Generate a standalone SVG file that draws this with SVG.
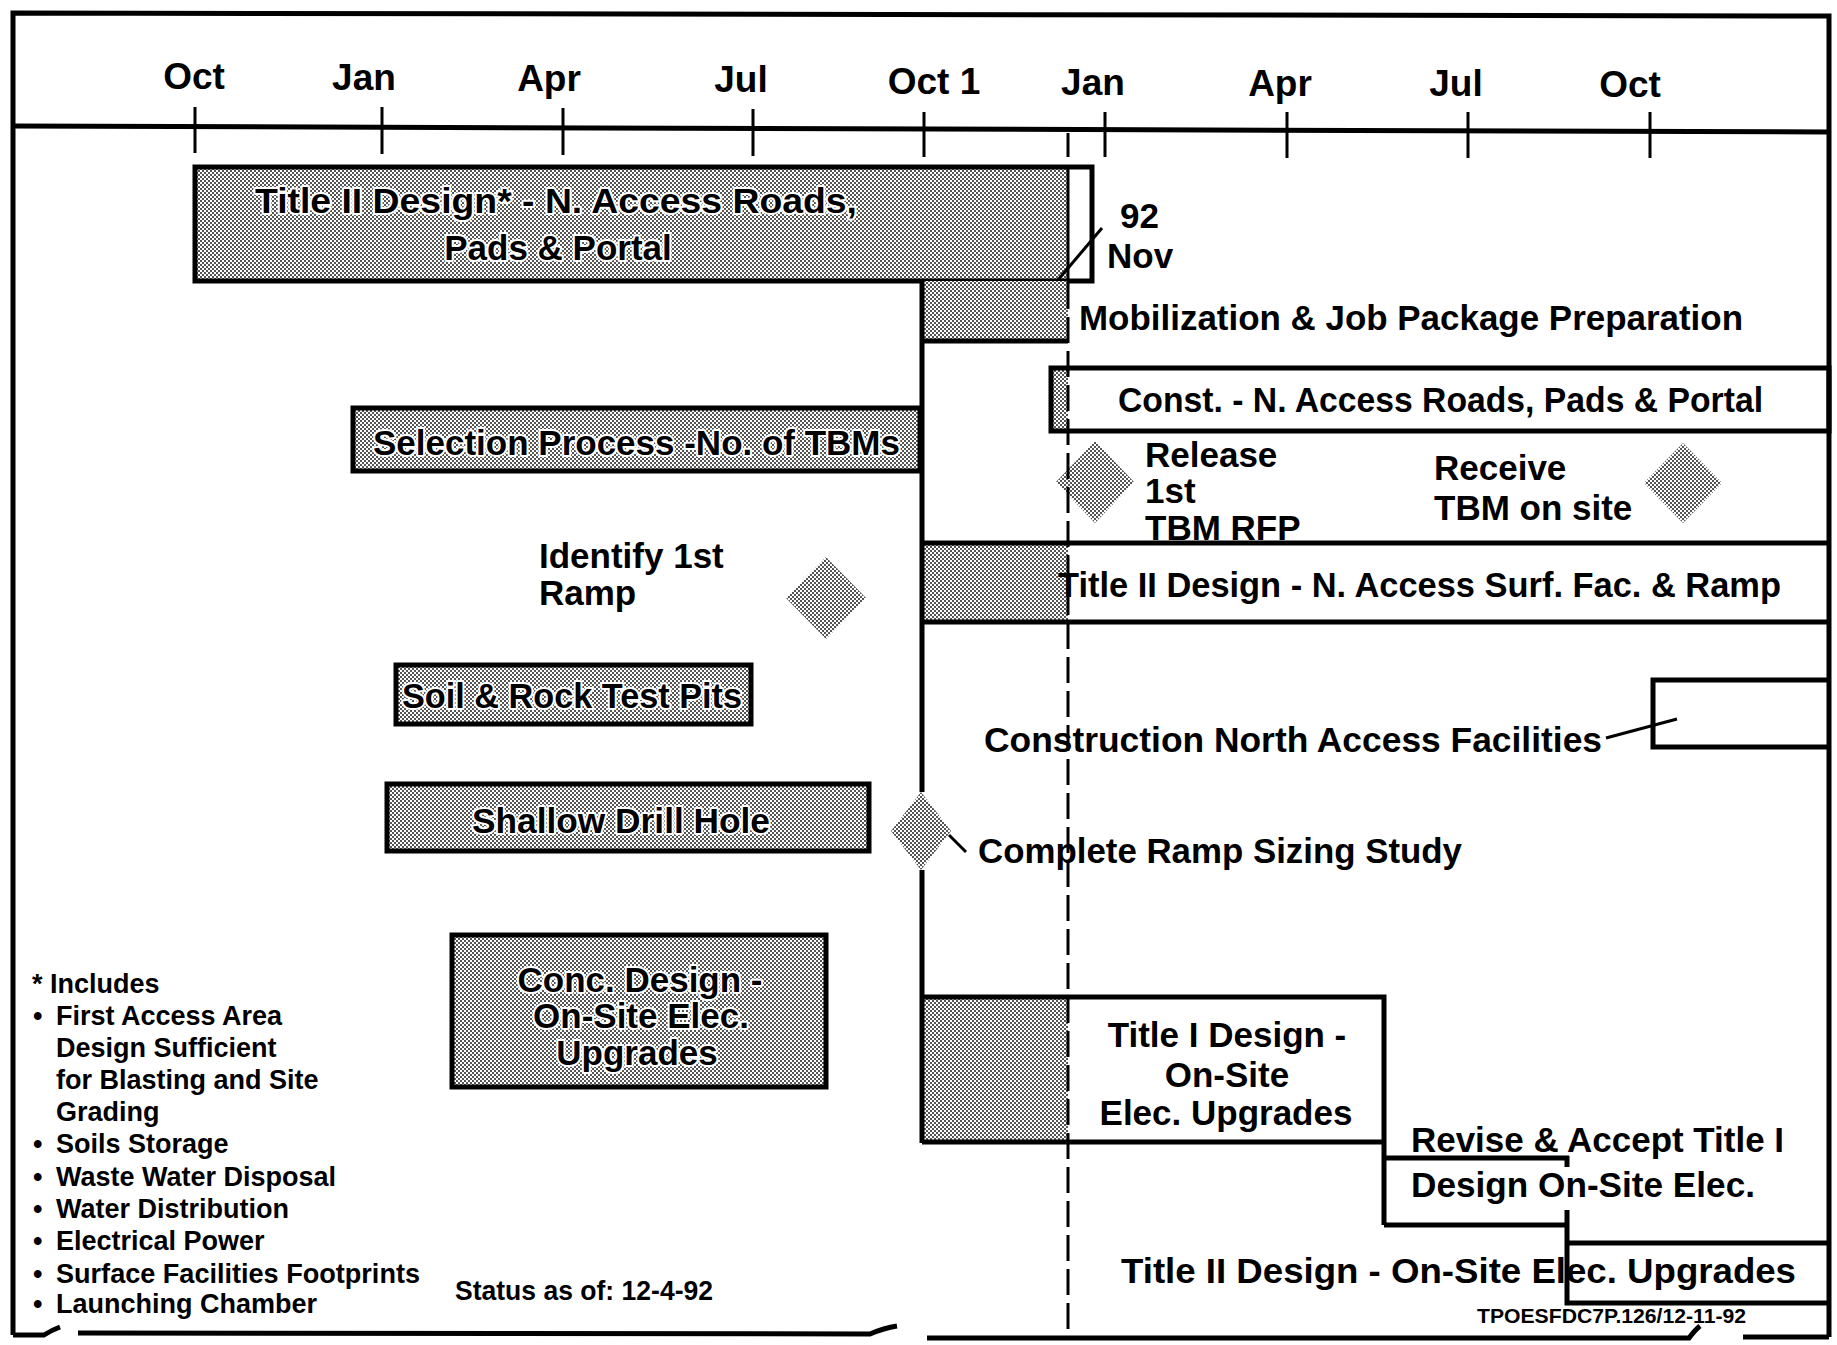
<svg xmlns="http://www.w3.org/2000/svg" width="1837" height="1345" viewBox="0 0 1837 1345">
<defs>
<pattern id="stip" width="4" height="4" patternUnits="userSpaceOnUse">
<rect width="4" height="4" fill="#fff"/>
<rect width="2" height="2" fill="#555"/>
<rect x="2" y="2" width="2" height="2" fill="#555"/>
</pattern>
</defs>
<style>
text{font-family:"Liberation Sans",Arial,Helvetica,sans-serif;font-weight:bold;fill:#000}
.m{font-size:37px;text-anchor:middle}
.l{font-size:35px}
.c{text-anchor:middle}
.h{stroke:#fff;stroke-width:4px;paint-order:stroke;stroke-linejoin:round}
.n{font-size:27px}
.s{font-size:20px}
.b{fill:none;stroke:#000;stroke-width:5}
.g{fill:url(#stip)}
.ln{stroke:#000;stroke-width:5;fill:none}
.tk{stroke:#000;stroke-width:3;fill:none}
.dash{stroke:#000;stroke-width:3;stroke-dasharray:26 8;fill:none}
</style>
<rect width="1837" height="1345" fill="#fff"/>

<g id="frame">
<path class="ln" d="M13 1335 V13 L1829 16 V1337"/>
<path class="ln" stroke-width="6" d="M13 126 L1829 132"/>
<path class="ln" d="M13 1335 H44 Q52 1330 60 1327"/>
<path class="ln" d="M78 1333 L870 1334 Q884 1328 897 1326"/>
<path class="ln" d="M927 1338 L1689 1338 Q1695 1330 1700 1326"/>
<path class="ln" d="M1743 1337 H1829"/>
</g>

<g id="timeline">
<path class="tk" d="M195 107V153 M382 107V154 M563 108V155 M753 109V156 M924 112V157 M1105 112V157 M1287 112V158 M1468 112V158 M1650 112V158"/>
<text class="m" x="194" y="89">Oct</text>
<text class="m" x="364" y="90">Jan</text>
<text class="m" x="549" y="91">Apr</text>
<text class="m" x="741" y="92">Jul</text>
<text class="m" x="934" y="94">Oct 1</text>
<text class="m" x="1093" y="95">Jan</text>
<text class="m" x="1280" y="96">Apr</text>
<text class="m" x="1456" y="96">Jul</text>
<text class="m" x="1630" y="97">Oct</text>
</g>

<g id="title2-roads">
<rect class="g" x="195" y="167" width="873" height="114"/>
<rect class="b" x="195" y="167" width="897" height="114"/>
<text class="l c h" x="556" y="213" textLength="602" lengthAdjust="spacingAndGlyphs">Title II Design* - N. Access Roads,</text>
<text class="l c h" x="558" y="260">Pads &amp; Portal</text>
</g>

<g id="nov92">
<text class="l" x="1120" y="228" font-size="36">92</text>
<text class="l" x="1107" y="268" font-size="36">Nov</text>
</g>

<g id="mobilization">
<rect class="g" x="922" y="281" width="146" height="60"/>
<path class="ln" d="M922 341 H1068"/>
<text class="l" x="1079" y="330" textLength="664" lengthAdjust="spacingAndGlyphs">Mobilization &amp; Job Package Preparation</text>
</g>

<g id="const-roads">
<rect class="g" x="1051" y="368" width="17" height="63"/>
<rect class="b" x="1051" y="368" width="778" height="63"/>
<text class="l" x="1118" y="412" textLength="645" lengthAdjust="spacingAndGlyphs">Const. - N. Access Roads, Pads &amp; Portal</text>
</g>

<g id="selection">
<rect class="g" x="353" y="408" width="567" height="63"/>
<rect class="b" x="353" y="408" width="567" height="63"/>
<text class="l h" x="373" y="455" textLength="527" lengthAdjust="spacingAndGlyphs">Selection Process -No. of TBMs</text>
</g>

<g id="release-rfp">
<polygon class="g" points="1095,441 1134,482 1095,523 1056,482"/>
<text class="l" x="1145" y="467">Release</text>
<text class="l" x="1145" y="503">1st</text>
<text class="l" x="1145" y="540">TBM RFP</text>
</g>

<g id="receive-tbm">
<polygon class="g" points="1683,443 1722,483 1683,523 1644,483"/>
<text class="l" x="1434" y="480">Receive</text>
<text class="l" x="1434" y="520">TBM on site</text>
</g>

<g id="identify-ramp">
<polygon class="g" points="826,557 866,598 826,639 786,598"/>
<text class="l" x="539" y="568">Identify 1st</text>
<text class="l" x="539" y="605">Ramp</text>
</g>

<g id="title2-surf">
<rect class="g" x="922" y="543" width="146" height="79"/>
<path class="ln" d="M922 543 H1829 M922 622 H1829"/>
<text class="l" x="1058" y="597" textLength="723" lengthAdjust="spacingAndGlyphs">Title II Design - N. Access Surf. Fac. &amp; Ramp</text>
</g>

<g id="soil-pits">
<rect class="g" x="396" y="665" width="355" height="59"/>
<rect class="b" x="396" y="665" width="355" height="59"/>
<text class="l h" x="402" y="708" textLength="340" lengthAdjust="spacingAndGlyphs">Soil &amp; Rock Test Pits</text>
</g>

<g id="construction-north">
<path class="ln" d="M1829 680 H1653 V747 H1829"/>
<text class="l" x="984" y="752" textLength="618" lengthAdjust="spacingAndGlyphs">Construction North Access Facilities</text>
</g>

<g id="shallow-drill">
<rect class="g" x="387" y="784" width="482" height="67"/>
<rect class="b" x="387" y="784" width="482" height="67"/>
<text class="l h" x="472" y="833" textLength="298" lengthAdjust="spacingAndGlyphs">Shallow Drill Hole</text>
</g>

<g id="ramp-sizing">
<polygon class="g" points="921,792 951,831 921,870 891,831"/>
<text class="l" x="978" y="863" textLength="484" lengthAdjust="spacingAndGlyphs">Complete Ramp Sizing Study</text>
</g>

<g id="conc-design">
<rect class="g" x="452" y="935" width="374" height="152"/>
<rect class="b" x="452" y="935" width="374" height="152"/>
<text class="l c h" x="640" y="992">Conc. Design -</text>
<text class="l c h" x="641" y="1028">On-Site Elec.</text>
<text class="l c h" x="637" y="1065">Upgrades</text>
</g>

<g id="title1-design">
<rect class="g" x="922" y="997" width="146" height="145"/>
<path class="ln" d="M922 997 H1384 V1225 M922 1142 H1384"/>
<text class="l c" x="1227" y="1047">Title I Design -</text>
<text class="l c" x="1227" y="1087">On-Site</text>
<text class="l c" x="1226" y="1125">Elec. Upgrades</text>
</g>

<g id="revise-accept">
<path class="ln" d="M1384 1158 H1569 M1384 1225 H1569 M1567 1156 V1167"/>
<text class="l" x="1411" y="1152" textLength="373" lengthAdjust="spacingAndGlyphs">Revise &amp; Accept Title I</text>
<text class="l" x="1411" y="1197" textLength="344" lengthAdjust="spacingAndGlyphs">Design On-Site Elec.</text>
</g>

<g id="title2-elec">
<path class="ln" d="M1567 1210 V1303 H1829 M1567 1243 H1829"/>
<text class="l" x="1121" y="1283" textLength="675" lengthAdjust="spacingAndGlyphs">Title II Design - On-Site Elec. Upgrades</text>
</g>

<g id="notes">
<text class="n" x="32" y="993">* Includes</text>
<text class="n"><tspan x="33" y="1025">•</tspan><tspan x="56" y="1025">First Access Area</tspan></text>
<text class="n" x="56" y="1057">Design Sufficient</text>
<text class="n" x="56" y="1089">for Blasting and Site</text>
<text class="n" x="56" y="1121">Grading</text>
<text class="n"><tspan x="33" y="1153">•</tspan><tspan x="56" y="1153">Soils Storage</tspan></text>
<text class="n"><tspan x="33" y="1186">•</tspan><tspan x="56" y="1186">Waste Water Disposal</tspan></text>
<text class="n"><tspan x="33" y="1218">•</tspan><tspan x="56" y="1218">Water Distribution</tspan></text>
<text class="n"><tspan x="33" y="1250">•</tspan><tspan x="56" y="1250">Electrical Power</tspan></text>
<text class="n"><tspan x="33" y="1283">•</tspan><tspan x="56" y="1283" textLength="364" lengthAdjust="spacingAndGlyphs">Surface Facilities Footprints</tspan></text>
<text class="n"><tspan x="33" y="1313">•</tspan><tspan x="56" y="1313">Launching Chamber</tspan></text>
</g>

<g id="status">
<text class="n" x="455" y="1300" font-size="26" textLength="258" lengthAdjust="spacingAndGlyphs">Status as of: 12-4-92</text>
</g>

<g id="docid">
<text class="s" x="1477" y="1323" textLength="269" lengthAdjust="spacingAndGlyphs">TPOESFDC7P.126/12-11-92</text>
</g>

<g id="connectors">
<path class="ln" stroke-width="4" d="M922 281 V792 M922 870 V1143"/>
<path class="tk" d="M1068 133 V157 M1068 168 V283"/>
<path class="dash" d="M1068 283 V1338"/>
<path class="tk" d="M1102 228 L1058 280"/>
<path class="tk" d="M1606 738 L1677 719"/>
<path class="tk" d="M949 835 L966 852"/>
</g>
</svg>
